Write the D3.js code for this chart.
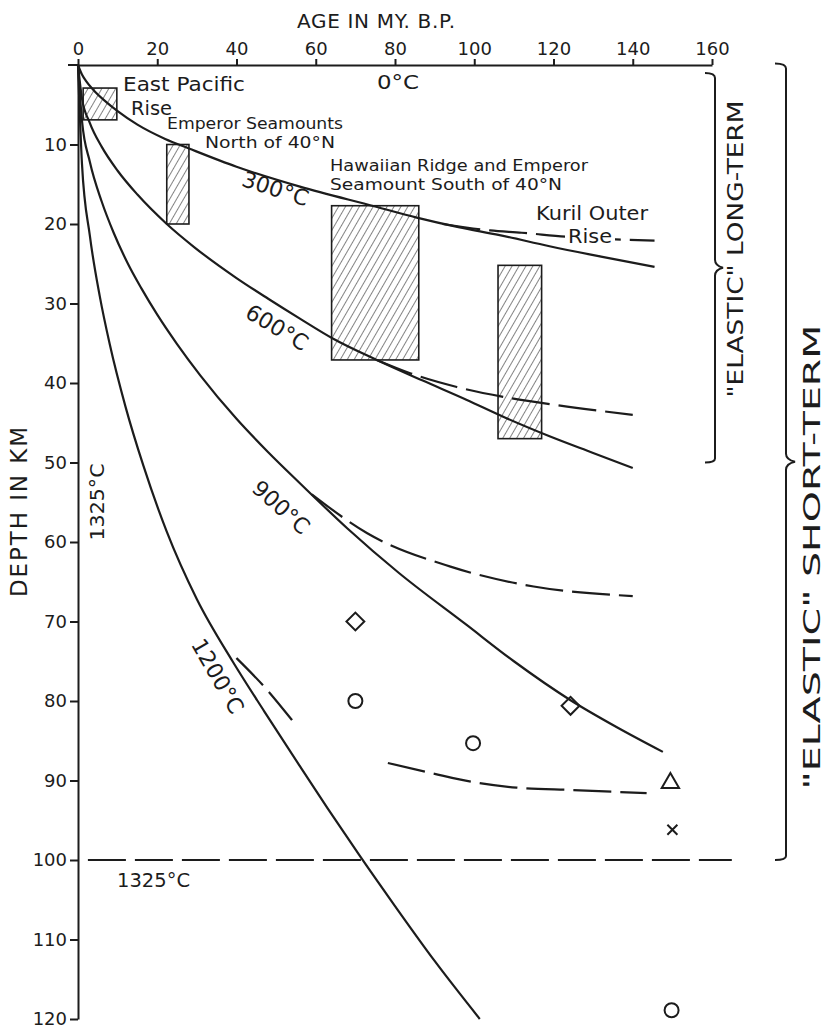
<!DOCTYPE html>
<html>
<head>
<meta charset="utf-8">
<script src="https://d3js.org/d3.v7.min.js"></script>
<style>
  body { margin: 0; background: #fff; }
  text { font-family: "DejaVu Sans", sans-serif; fill: #1c1c1c; }
</style>
</head>
<body>
<div id="chart"></div>
<script>

// axis ticks
var ageTicks = [0, 20, 40, 60, 80, 100, 120, 140, 160];
var depthTicks = [10, 20, 30, 40, 50, 60, 70, 80, 90, 100, 110, 120];

// isotherms, [age in m.y., depth in km]
var iso300 = [[0,0],[1,1.2],[2,2],[4,3.2],[7,4.6],[10,5.8],[15,7.5],[22,9.3],[28,10.5],[40,12.8],[56,15.3],[75,17.8],[85.5,19.2],[96,20.4],[106.4,21.4],[119,22.8],[132,24.1],[145.5,25.4]];
var iso600 = [[0,0],[1,4.2],[3,7.3],[6,10.3],[10,13.3],[15,16.3],[22.4,20],[29.3,22.9],[40,26.8],[48,29.4],[56,31.9],[64.3,34.4],[75.4,37.1],[87,39.7],[98,42.1],[108,44.4],[119,46.7],[130,48.8],[140,50.7]];
var iso900 = [[0,0],[1,7],[3,12.2],[6,17.2],[9,21.1],[12.6,25],[16,28.1],[20,31.4],[25,35.1],[30.8,39],[40,44.5],[48,48.7],[56,52.6],[68,58.3],[81,63.9],[98,70.4],[110,75],[124.3,79.9],[136,83.3],[147.6,86.4]];
var iso1200 = [[0,0],[1,12.4],[3,21.5],[5.5,29.1],[8,35.1],[12,43],[16.5,50.4],[22.4,58.7],[30,67.2],[39,75],[47,81.3],[56,88.2],[63,93.5],[71,99.4],[80,105.8],[90,112.7],[101.4,120]];

// dashed branches
var kurilDash = [[92,20],[104,20.8],[112,21.1],[123,21.6],[145.5,22.1]];
var dash600 = [[75.4,37.1],[84,38.8],[95.6,40.5],[108,41.8],[121,42.8],[140,44]];
var dash900 = [[59,54],[73,58.9],[94,63.1],[115,65.6],[140,66.8]];
var dash1200 = [[40,74.6],[47,78.2],[54,82.4]];
var dashDeep = [[78.2,87.8],[89.5,89.1],[99.7,90.2],[110.7,90.9],[125,91.2],[143.5,91.6]];
var base1325 = [[2.5,100],[165,100]];

// hatched boxes: [age from, age to, depth from, depth to]
var boxes = [[1.3,9.8,2.9,6.9],[22.4,28,10,20],[64,86,17.7,37.1],[106,117,25.2,47]];

// point estimates
var circles = [[70,80],[99.7,85.3],[149.8,118.9]];
var diamonds = [[70,70],[124.3,80.6]];
var triangles = [[149.5,90.3]];
var crosses = [[150,96.2]];

var W = 827, H = 1030;
var ink = "#1c1c1c";

var svg = d3.select("#chart").append("svg")
    .attr("width", W)
    .attr("height", H);

var x = d3.scaleLinear().domain([0, 160]).range([78, 712]);
var y = d3.scaleLinear().domain([0, 120]).range([65, 1019]);

// hatch pattern
var defs = svg.append("defs");
defs.append("pattern")
    .attr("id", "hatch")
    .attr("patternUnits", "userSpaceOnUse")
    .attr("width", 6).attr("height", 6)
    .attr("patternTransform", "rotate(30)")
  .append("line")
    .attr("x1", 0).attr("y1", 0).attr("x2", 0).attr("y2", 6)
    .attr("stroke", ink).attr("stroke-width", 1.1);

// top axis
var topAxis = svg.append("g")
    .attr("transform", "translate(0," + y(0) + ")")
    .call(d3.axisTop(x).tickValues(ageTicks).tickSize(6).tickSizeOuter(0).tickPadding(4));
svg.append("line")
    .attr("x1", 68).attr("x2", x(0))
    .attr("y1", y(0)).attr("y2", y(0))
    .attr("stroke", ink).attr("stroke-width", 2);

// left axis
var leftAxis = svg.append("g")
    .attr("transform", "translate(" + x(0) + ",0)")
    .call(d3.axisLeft(y).tickValues(depthTicks).tickSize(8).tickSizeOuter(0).tickPadding(3));

[topAxis, leftAxis].forEach(function(g) {
  g.select(".domain").attr("stroke", ink).attr("stroke-width", 2);
  g.selectAll(".tick line").attr("stroke", ink).attr("stroke-width", 2);
  g.selectAll(".tick text")
    .style("font-family", "DejaVu Sans, sans-serif")
    .style("font-size", "18px")
    .attr("fill", ink);
});

svg.append("text")
    .attr("x", 376).attr("y", 28)
    .attr("text-anchor", "middle")
    .style("font-size", "20px")
    .attr("textLength", 158)
    .text("AGE IN MY. B.P.");

svg.append("text")
    .attr("transform", "translate(27,512) rotate(-90)")
    .attr("text-anchor", "middle")
    .style("font-size", "23px")
    .attr("textLength", 170)
    .text("DEPTH IN KM");

// hatched boxes
svg.append("g").selectAll("rect")
  .data(boxes)
  .enter().append("rect")
    .attr("x", function(d) { return x(d[0]); })
    .attr("y", function(d) { return y(d[2]); })
    .attr("width", function(d) { return x(d[1]) - x(d[0]); })
    .attr("height", function(d) { return y(d[3]) - y(d[2]); })
    .attr("fill", "url(#hatch)")
    .attr("stroke", ink)
    .attr("stroke-width", 1.6);

var line = d3.line()
    .x(function(d) { return x(d[0]); })
    .y(function(d) { return y(d[1]); })
    .curve(d3.curveMonotoneX);

// solid isotherms
svg.append("g").selectAll("path")
  .data([iso300, iso600, iso900, iso1200])
  .enter().append("path")
    .attr("d", line)
    .attr("fill", "none")
    .attr("stroke", ink)
    .attr("stroke-width", 2.2);

// dashed isotherms
svg.append("g").selectAll("path")
  .data([kurilDash, dash600, dash900, dash1200, dashDeep, base1325])
  .enter().append("path")
    .attr("d", line)
    .attr("fill", "none")
    .attr("stroke", ink)
    .attr("stroke-width", 2.2)
    .attr("stroke-dasharray", "38,9");

// markers
var mk = svg.append("g").attr("fill", "none").attr("stroke", ink).attr("stroke-width", 2);
mk.selectAll(".c").data(circles).enter().append("circle")
    .attr("cx", function(d) { return x(d[0]); })
    .attr("cy", function(d) { return y(d[1]); })
    .attr("r", 7);
mk.selectAll(".d").data(diamonds).enter().append("path")
    .attr("d", d3.symbol().type(d3.symbolSquare).size(160))
    .attr("transform", function(d) { return "translate(" + x(d[0]) + "," + y(d[1]) + ") rotate(45)"; });
mk.selectAll(".t").data(triangles).enter().append("path")
    .attr("d", d3.symbol().type(d3.symbolTriangle).size(130))
    .attr("transform", function(d) { return "translate(" + x(d[0]) + "," + y(d[1]) + ")"; });
mk.selectAll(".x").data(crosses).enter().append("path")
    .attr("d", function(d) {
      var cx = x(d[0]), cy = y(d[1]), r = 5;
      return "M" + (cx - r) + "," + (cy - r) + "L" + (cx + r) + "," + (cy + r) +
             "M" + (cx - r) + "," + (cy + r) + "L" + (cx + r) + "," + (cy - r);
    });

// labels
function label(txt, px, py, size, rot, anchor, len) {
  var t = svg.append("text")
    .attr("transform", "translate(" + px + "," + py + ")" + (rot ? " rotate(" + rot + ")" : ""))
    .attr("text-anchor", anchor || "start")
    .style("font-size", size + "px")
    .text(txt);
  if (len) t.attr("textLength", len).attr("lengthAdjust", "spacingAndGlyphs");
  return t;
}

label("0°C", 377, 89, 20, 0, "start", 42);
label("East Pacific", 123, 91, 19, 0, "start", 122);
label("Rise", 131, 115, 19, 0, "start", 41);
label("Emperor Seamounts", 167, 129, 16, 0, "start", 176);
label("North of 40°N", 205, 148, 16, 0, "start", 130);
label("Hawaiian Ridge and Emperor", 330, 171, 15.5, 0, "start", 258);
label("Seamount South of 40°N", 330, 189.5, 15.5, 0, "start", 232);
label("Kuril Outer", 536, 220, 20, 0, "start", 112);

// "Rise" sits on the dashed Kuril line
svg.append("rect")
    .attr("x", 565).attr("y", 226).attr("width", 50).attr("height", 20)
    .attr("fill", "#fff");
label("Rise", 568, 243, 20, 0, "start", 44);

label("300°C", 273, 196, 22, 18, "middle");
label("600°C", 273, 334, 22, 31, "middle");
label("900°C", 276, 513, 22, 42, "middle");
label("1200°C", 211, 680, 22, 60, "middle");
label("1325°C", 104, 502, 19, -90, "middle", 77);
label("1325°C", 117, 887, 19, 0, "start", 73);

// brackets on the right
function bracket(bx, top, bottom, hook, tip) {
  var mid = (top + bottom) / 2;
  return "M" + (bx - hook) + "," + top +
         "Q" + bx + "," + top + " " + bx + "," + (top + 5) +
         "V" + (mid - 8) +
         "Q" + bx + "," + (mid - 2) + " " + (bx + tip) + "," + mid +
         "Q" + bx + "," + (mid + 2) + " " + bx + "," + (mid + 8) +
         "V" + (bottom - 4) +
         "Q" + bx + "," + bottom + " " + (bx - hook) + "," + bottom;
}
svg.append("path")
    .attr("d", bracket(715, y(1), y(50), 10, 8))
    .attr("fill", "none").attr("stroke", ink).attr("stroke-width", 2);
svg.append("path")
    .attr("d", bracket(786, y(-0.2), y(100), 11, 9))
    .attr("fill", "none").attr("stroke", ink).attr("stroke-width", 2);

label("\"ELASTIC\" LONG-TERM", 743, 249, 22, -90, "middle", 297);
label("\"ELASTIC\"  SHORT-TERM", 820, 557, 23, -90, "middle", 465);

</script>
</body>
</html>
